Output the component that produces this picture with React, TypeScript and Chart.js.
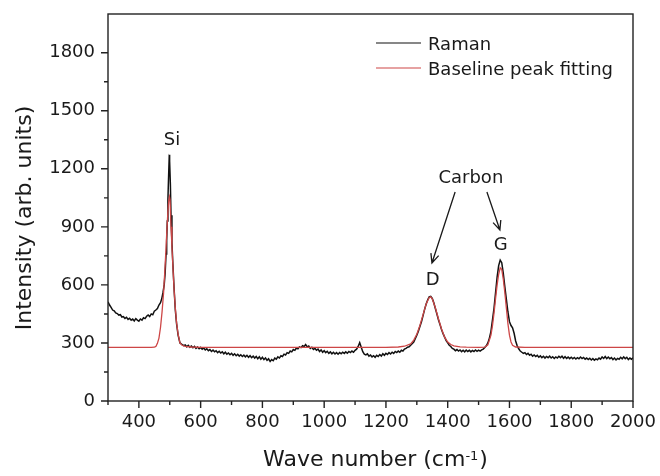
import React, { useEffect, useRef } from "react";
import { Chart, registerables } from "chart.js";

Chart.register(...registerables);

const FONT = "'DejaVu Sans', 'Liberation Sans', sans-serif";

// [wave number, intensity]
const ramanSpectrum: [number, number][] = [
  [300, 512], [305, 496], [310, 484], [315, 470], [320, 466], [325, 455], [330, 452], [335, 444], [340, 446], [345, 434],
  [350, 436], [355, 427], [360, 433], [365, 422], [370, 428], [375, 418], [380, 424], [385, 414], [390, 426], [395, 418],
  [400, 412], [405, 424], [410, 418], [415, 430], [420, 426], [425, 438], [430, 444], [435, 436], [440, 450], [445, 446],
  [450, 464], [455, 470], [460, 478], [465, 496], [470, 508], [474, 528],
  [478, 560], [482, 600], [485, 660], [488, 760], [490, 830], [492, 930], [494, 1040], [496, 1150], [498, 1250], [499, 1272],
  [500, 1240], [502, 1120], [504, 960], [507, 820], [510, 710], [514, 580], [518, 470], [522, 400], [527, 340], [533, 300],
  [540, 292], [545, 286], [550, 290], [555, 280], [560, 288], [565, 278], [570, 284], [575, 275], [580, 282], [585, 272],
  [590, 279], [595, 270], [600, 277], [605, 268], [610, 274], [615, 264], [620, 270], [625, 260], [630, 266], [635, 256],
  [640, 263], [645, 254], [650, 260], [655, 250], [660, 257], [665, 248], [670, 254], [675, 244], [680, 252], [685, 242],
  [690, 248], [695, 239], [700, 246], [705, 236], [710, 244], [715, 234], [720, 241], [725, 232], [730, 239], [735, 230],
  [740, 237], [745, 228], [750, 236], [755, 226], [760, 234], [765, 224], [770, 232], [775, 222], [780, 230], [785, 218],
  [790, 228], [795, 216], [800, 226], [805, 214], [810, 222], [815, 210], [820, 218], [825, 204], [830, 214], [835, 208],
  [840, 222], [845, 216], [850, 228], [855, 222], [860, 234], [865, 230], [870, 242], [875, 238], [880, 250], [885, 246],
  [890, 258], [895, 254], [900, 266], [905, 262], [910, 274], [915, 270], [920, 280], [925, 276], [930, 286], [935, 282],
  [940, 292], [945, 280], [950, 284], [955, 272], [960, 278], [965, 266], [970, 272], [975, 262], [980, 268], [985, 256],
  [990, 264], [995, 252], [1000, 260], [1005, 250], [1010, 257], [1015, 246], [1020, 254], [1025, 244], [1030, 252], [1035, 243],
  [1040, 250], [1045, 242], [1050, 251], [1055, 244], [1060, 252], [1065, 246], [1070, 254], [1075, 247], [1080, 256], [1085, 250],
  [1090, 258], [1095, 252], [1100, 262], [1105, 268], [1110, 282], [1115, 302], [1120, 278], [1125, 255], [1130, 242], [1135, 238],
  [1140, 244], [1145, 232], [1150, 238], [1155, 228], [1160, 234], [1165, 226], [1170, 236], [1175, 230], [1180, 240], [1185, 232],
  [1190, 244], [1195, 236], [1200, 246], [1205, 240], [1210, 250], [1215, 243], [1220, 252], [1225, 246], [1230, 256], [1235, 250],
  [1240, 258], [1245, 252], [1250, 262], [1255, 258], [1260, 268], [1265, 272], [1270, 278], [1275, 280], [1280, 288],
  [1290, 305], [1300, 340], [1305, 360], [1310, 385], [1315, 410], [1320, 440], [1325, 472], [1330, 500], [1335, 522], [1340, 538],
  [1345, 541], [1350, 530], [1355, 508], [1360, 478], [1365, 450], [1370, 420], [1375, 395], [1380, 370], [1385, 348], [1390, 330],
  [1395, 312], [1400, 300], [1405, 288], [1410, 282], [1415, 272],
  [1420, 268], [1425, 260], [1430, 266], [1435, 258], [1440, 264], [1445, 255], [1450, 262], [1455, 254], [1460, 263], [1465, 256],
  [1470, 262], [1475, 254], [1480, 261], [1485, 256], [1490, 264], [1495, 257], [1500, 263], [1505, 258], [1510, 264], [1515, 268],
  [1520, 276], [1525, 285], [1530, 300], [1535, 325],
  [1540, 360], [1545, 420], [1550, 480], [1555, 560], [1560, 640], [1565, 700], [1570, 728], [1575, 715], [1580, 660], [1585, 590],
  [1590, 525], [1595, 460], [1600, 410], [1605, 390], [1610, 378], [1615, 350], [1620, 310], [1625, 285], [1630, 270], [1635, 258],
  [1640, 252], [1645, 246], [1650, 250], [1655, 240], [1660, 246], [1665, 236], [1670, 242], [1675, 232], [1680, 238], [1685, 230],
  [1690, 236], [1695, 226], [1700, 233], [1705, 224], [1710, 231], [1715, 222], [1720, 230], [1725, 224], [1730, 232], [1735, 222],
  [1740, 229], [1745, 220], [1750, 228], [1755, 222], [1760, 231], [1765, 224], [1770, 232], [1775, 221], [1780, 229], [1785, 220],
  [1790, 227], [1795, 219], [1800, 226], [1805, 218], [1810, 225], [1815, 217], [1820, 224], [1825, 218], [1830, 227], [1835, 219],
  [1840, 225], [1845, 216], [1850, 222], [1855, 214], [1860, 221], [1865, 212], [1870, 219], [1875, 211], [1880, 218], [1885, 213],
  [1890, 222], [1895, 216], [1900, 228], [1905, 220], [1910, 230], [1915, 219], [1920, 227], [1925, 218], [1930, 224], [1935, 214],
  [1940, 222], [1945, 212], [1950, 220], [1955, 216], [1960, 226], [1965, 218], [1970, 228], [1975, 219], [1980, 226], [1985, 214],
  [1990, 222], [1995, 216], [2000, 224],
];

// [wave number, intensity] of the fitted baseline + peaks
const fitSpectrum: [number, number][] = [
  [300, 277], [440, 277], [450, 278], [455, 282], [460, 298], [465, 325], [470, 380], [475, 460], [480, 560], [485, 700],
  [490, 860], [494, 980], [497, 1040], [499, 1056], [501, 1040], [504, 900], [507, 800], [510, 700], [514, 575], [518, 480],
  [522, 405], [527, 345], [533, 300], [540, 288], [550, 282], [570, 279], [600, 277], [1200, 277], [1240, 279], [1260, 283],
  [1280, 295], [1290, 315], [1300, 345], [1310, 390], [1320, 445], [1330, 500], [1340, 535], [1345, 538], [1350, 528], [1360, 482],
  [1370, 425], [1380, 372], [1390, 330], [1400, 305], [1410, 292], [1420, 285], [1440, 280], [1460, 278], [1500, 277], [1520, 278],
  [1530, 290], [1540, 340], [1545, 390], [1550, 455], [1555, 530], [1560, 600], [1565, 655], [1570, 688], [1575, 680], [1580, 630],
  [1585, 560], [1590, 480], [1595, 400], [1600, 340], [1605, 305], [1610, 288], [1620, 279], [1650, 277], [2000, 277],
];

const seriesNames = ["Raman", "Baseline peak fitting"];
const xTickLabels = ["400", "600", "800", "1000", "1200", "1400", "1600", "1800", "2000"];
const yTickLabels = ["0", "300", "600", "900", "1200", "1500", "1800"];

const annotationTexts = ["Si", "Carbon", "D", "G"];
const annotationWave = [507, 1475, 1351, 1572];
const annotationIntensity = [1323, 1127, 599, 780];

// arrows: [wave, intensity] of tail and head
const arrowFrom = [
  [1424, 1080],
  [1527, 1080],
];
const arrowTo = [
  [1349, 713],
  [1569, 884],
];

const decorPlugin = {
  id: "decor",
  afterDatasetsDraw(chart: any) {
    const { ctx, chartArea: a, scales } = chart;
    const xs = scales.x;
    const ys = scales.y;
    ctx.save();
    // frame
    ctx.strokeStyle = "#222";
    ctx.lineWidth = 1.4;
    ctx.strokeRect(a.left, a.top, a.right - a.left, a.bottom - a.top);
    // tick marks
    ctx.beginPath();
    ys.ticks.forEach((t: any) => {
      if (t.value % 150 !== 0) return;
      const py = ys.getPixelForValue(t.value);
      const len = yTickLabels.includes(String(t.value)) ? 7 : 4;
      ctx.moveTo(a.left, py);
      ctx.lineTo(a.left - len, py);
    });
    xs.ticks.forEach((t: any) => {
      if (t.value % 100 !== 0) return;
      const px = xs.getPixelForValue(t.value);
      const len = xTickLabels.includes(String(t.value)) ? 7 : 4;
      ctx.moveTo(px, a.bottom);
      ctx.lineTo(px, a.bottom + len);
    });
    ctx.stroke();

    // legend
    const legendY = [43, 68];
    chart.data.datasets.forEach((ds: any, i: number) => {
      ctx.strokeStyle = ds.borderColor;
      ctx.lineWidth = 1.1;
      ctx.beginPath();
      ctx.moveTo(376, legendY[i]);
      ctx.lineTo(421, legendY[i]);
      ctx.stroke();
      ctx.fillStyle = "#1a1a1a";
      ctx.font = `18px ${FONT}`;
      ctx.textAlign = "left";
      ctx.textBaseline = "alphabetic";
      ctx.fillText(ds.label, 428, legendY[i] + 6.5);
    });

    // annotations
    ctx.fillStyle = "#1a1a1a";
    ctx.font = `18px ${FONT}`;
    ctx.textAlign = "center";
    ctx.textBaseline = "alphabetic";
    annotationTexts.forEach((txt, i) => {
      ctx.fillText(txt, xs.getPixelForValue(annotationWave[i]), ys.getPixelForValue(annotationIntensity[i]));
    });

    // arrows
    ctx.strokeStyle = "#1a1a1a";
    ctx.lineWidth = 1.3;
    arrowFrom.forEach((f, i) => {
      const x1 = xs.getPixelForValue(f[0]);
      const y1 = ys.getPixelForValue(f[1]);
      const x2 = xs.getPixelForValue(arrowTo[i][0]);
      const y2 = ys.getPixelForValue(arrowTo[i][1]);
      ctx.beginPath();
      ctx.moveTo(x1, y1);
      ctx.lineTo(x2, y2);
      const ang = Math.atan2(y2 - y1, x2 - x1);
      const hl = 10;
      const spread = 0.42;
      ctx.moveTo(x2 - hl * Math.cos(ang - spread), y2 - hl * Math.sin(ang - spread));
      ctx.lineTo(x2, y2);
      ctx.lineTo(x2 - hl * Math.cos(ang + spread), y2 - hl * Math.sin(ang + spread));
      ctx.stroke();
    });

    // y title
    ctx.save();
    ctx.translate(25, 218);
    ctx.rotate(-Math.PI / 2);
    ctx.font = `22px ${FONT}`;
    ctx.textAlign = "center";
    ctx.textBaseline = "middle";
    ctx.fillStyle = "#1a1a1a";
    ctx.fillText("Intensity (arb. units)", 0, 0);
    ctx.restore();

    // x title with superscript
    const main = "Wave number (cm";
    const sup = "-1";
    const close = ")";
    ctx.font = `22px ${FONT}`;
    const wMain = ctx.measureText(main).width;
    const wClose = ctx.measureText(close).width;
    ctx.font = `13px ${FONT}`;
    const wSup = ctx.measureText(sup).width;
    const total = wMain + wSup + wClose + 1;
    const cx = (a.left + a.right) / 2 + 5;
    let sx = cx - total / 2;
    const baseY = 466;
    ctx.textAlign = "left";
    ctx.textBaseline = "alphabetic";
    ctx.font = `22px ${FONT}`;
    ctx.fillText(main, sx, baseY);
    sx += wMain;
    ctx.font = `13px ${FONT}`;
    ctx.fillText(sup, sx, baseY - 6.5);
    sx += wSup + 1;
    ctx.font = `22px ${FONT}`;
    ctx.fillText(close, sx, baseY);

    ctx.restore();
  },
};

export default function App() {
  const canvasRef = useRef<HTMLCanvasElement | null>(null);

  useEffect(() => {
    if (!canvasRef.current) return;
    const ramanData = ramanSpectrum.map(([w, v]) => ({ x: w, y: v }));
    const fitData = fitSpectrum.map(([w, v]) => ({ x: w, y: v }));
    const chart = new Chart(canvasRef.current, {
      type: "line",
      data: {
        datasets: [
          {
            label: seriesNames[0],
            data: ramanData,
            borderColor: "#111111",
            borderWidth: 1.5,
            pointRadius: 0,
            tension: 0,
            fill: false,
            order: 1,
          },
          {
            label: seriesNames[1],
            data: fitData,
            borderColor: "rgb(205,70,70)",
            borderWidth: 1.3,
            pointRadius: 0,
            tension: 0,
            fill: false,
            order: 0,
          },
        ],
      },
      options: {
        animation: false,
        responsive: true,
        maintainAspectRatio: false,
        layout: { padding: { left: 0, top: 14, right: 27, bottom: 0 } },
        plugins: { legend: { display: false }, tooltip: { enabled: false } },
        scales: {
          x: {
            type: "linear",
            min: 300,
            max: 2000,
            grid: { display: false, drawTicks: false },
            border: { display: false },
            ticks: {
              stepSize: 100,
              autoSkip: false,
              maxRotation: 0,
              padding: 11,
              color: "#1a1a1a",
              font: { family: FONT, size: 18 },
              callback: (v: any) => (xTickLabels.includes(String(v)) ? String(v) : ""),
            },
            afterFit: (s: any) => {
              s.height = 75;
              s.paddingLeft = 0;
              s.paddingRight = 0;
              s.paddingTop = 0;
              s.paddingBottom = 0;
            },
          },
          y: {
            type: "linear",
            min: 0,
            max: 2000,
            grid: { display: false, drawTicks: false },
            border: { display: false },
            ticks: {
              stepSize: 150,
              autoSkip: false,
              padding: 13,
              color: "#1a1a1a",
              font: { family: FONT, size: 18 },
              callback: (v: any) => (yTickLabels.includes(String(v)) ? String(v) : ""),
            },
            afterFit: (s: any) => {
              s.width = 108;
              s.paddingLeft = 0;
              s.paddingRight = 0;
              s.paddingTop = 0;
              s.paddingBottom = 0;
            },
          },
        },
      },
      plugins: [decorPlugin],
    });
    return () => chart.destroy();
  }, []);

  return (
    <div style={{ position: "fixed", left: 0, top: 0, width: 660, height: 476, background: "#fff" }}>
      <canvas ref={canvasRef} />
    </div>
  );
}
